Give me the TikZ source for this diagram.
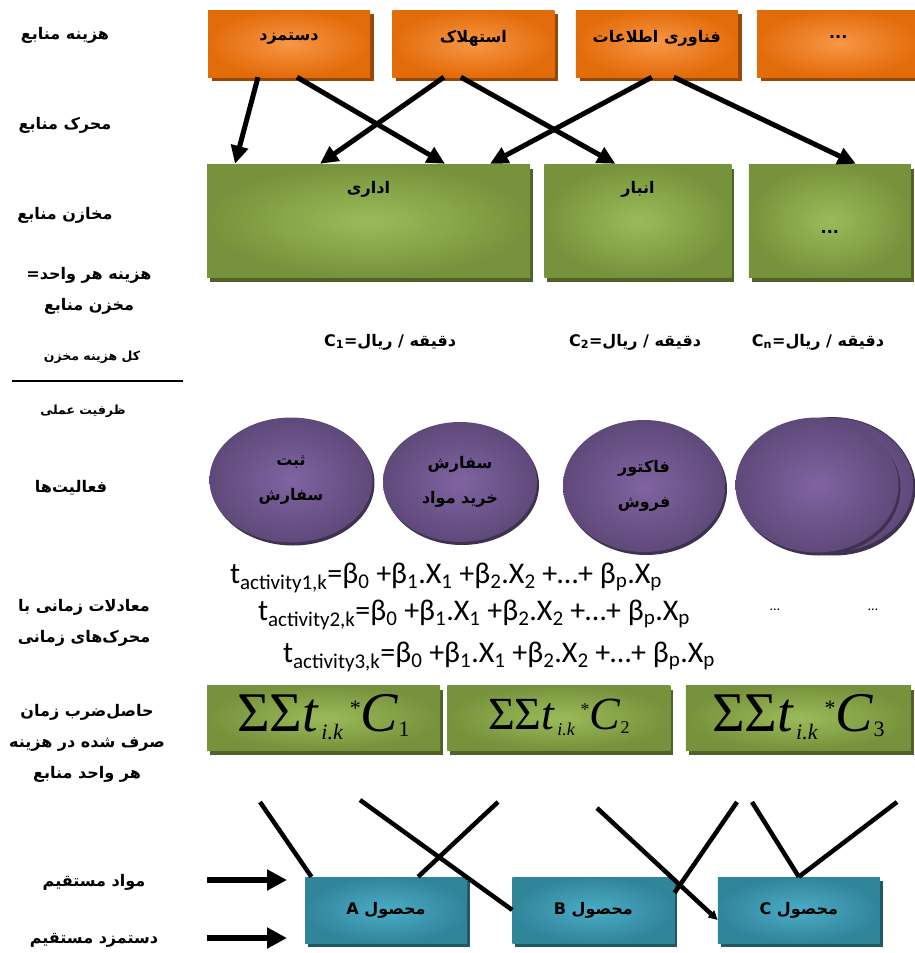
\documentclass[tikz,border=0pt]{standalone}
\usepackage{fontspec}
\usetikzlibrary{
  shapes.geometric,
  arrows.meta,
  positioning,
  shadows
}
\TeXXeTstate=1
\newfontfamily\fa[Script=Arabic]{DejaVu Sans}
\newfontfamily\eqfont{Carlito}
\newfontfamily\serifmath{Liberation Serif}
\definecolor{orangedark}{RGB}{227, 108, 10}
\definecolor{orangelight}{RGB}{247, 150, 70}
\definecolor{orangeshadow}{RGB}{152, 72, 6}
\definecolor{greendark}{RGB}{118, 146, 60}
\definecolor{greenlight}{RGB}{155, 187, 89}
\definecolor{greenshadow}{RGB}{79, 98, 40}
\definecolor{purpledark}{RGB}{95, 73, 122}
\definecolor{purplelight}{RGB}{128, 100, 162}
\definecolor{purpleshadow}{RGB}{63, 49, 81}
\definecolor{bluedark}{RGB}{49, 133, 155}
\definecolor{bluelight}{RGB}{75, 172, 198}
\definecolor{blueshadow}{RGB}{32, 88, 103}
\newcommand{\timeeq}[1]{t\textsubscript{activity#1,k}=β\textsubscript{0} +β\textsubscript{1}.X\textsubscript{1} +β\textsubscript{2}.X\textsubscript{2} +…+ β\textsubscript{p}.X\textsubscript{p}}
\newcommand{\sumexpr}[3]{{\serifmath\fontsize{#1}{#1}\selectfont ΣΣ\textit{t}\hspace{0.04em}\raisebox{-0.14em}{\fontsize{#2}{#2}\selectfont\textit{i.k}}\hspace{0.12em}\raisebox{0.3em}{\fontsize{#2}{#2}\selectfont *}\textit{C}\raisebox{-0.08em}{\fontsize{#2}{#2}\selectfont #3}}}
\tikzset{
blocktext/.style={
  align=center,
  font=\fa\bfseries\fontsize{16}{19}\selectfont,
  text=black
},
costblock/.style={
  rectangle,
  inner color=orangelight,
  outer color=orangedark,
  minimum width=162pt,
  minimum height=67pt,
  text depth=14pt,
  drop shadow={shadow xshift=4pt, shadow yshift=-4pt, fill=orangeshadow, opacity=1},
  blocktext
},
poolblock/.style={
  rectangle,
  inner color=greenlight,
  outer color=greendark,
  minimum height=113pt,
  drop shadow={shadow xshift=3pt, shadow yshift=-5pt, fill=greenshadow, opacity=1}
},
activityblock/.style={
  ellipse,
  inner sep=0pt,
  inner color=purplelight,
  outer color=purpledark,
  drop shadow={shadow xshift=2pt, shadow yshift=-3pt, fill=purpleshadow, opacity=1},
  blocktext,
  font=\fa\bfseries\fontsize{16}{35}\selectfont
},
sumblock/.style={
  rectangle,
  inner color=greenlight,
  outer color=greendark,
  minimum height=65pt,
  drop shadow={shadow xshift=3pt, shadow yshift=-5pt, fill=greenshadow, opacity=1}
},
productblock/.style={
  rectangle,
  inner color=bluelight,
  outer color=bluedark,
  minimum width=162pt,
  minimum height=66pt,
  drop shadow={shadow xshift=3pt, shadow yshift=-4pt, fill=blueshadow, opacity=1},
  blocktext
},
rowlabel/.style={
  align=center,
  font=\fa\bfseries\fontsize{16}{31}\selectfont
},
smalllabel/.style={
  font=\fa\bfseries\fontsize{12.5}{14}\selectfont
},
ratelabel/.style={
  font=\fa\bfseries\fontsize{16}{19}\selectfont
},
eqtext/.style={
  inner sep=0pt,
  font=\eqfont\fontsize{30}{34}\selectfont
},
arrow/.style={
  -{Triangle[length=18pt,width=17pt]},
  line width=5pt
},
inarrow/.style={
  -{Triangle[length=20pt,width=20pt]},
  line width=6pt
},
link/.style={
  line width=4.5pt
},
linkarrow/.style={
  link,
  -{Triangle[length=9pt,width=9pt]}
},
fracline/.style={
  line width=1.5pt
}
}
\begin{document}
\begin{tikzpicture}[x=1pt, y=-1pt, node distance=21pt]
\useasboundingbox (0,0) rectangle (914,953);

\node[costblock] (labor) at (289,43.5) {\beginR دستمزد\endR};
\node[costblock, right=22pt of labor] (depreciation) {\beginR استهلاک\endR};
\node[costblock, right=21pt of depreciation] (itcost) {\beginR فناوری اطلاعات\endR};
\node[costblock, right=19pt of itcost] (othercost) {...};

\node[poolblock, minimum width=323pt] (admin) at (368.5,220.5) {};
\node[poolblock, minimum width=187pt, right=14pt of admin] (store) {};
\node[poolblock, minimum width=162pt, right=17pt of store] (otherpool) {};
\node[blocktext, below=14pt of admin.north] (admintext) {\beginR اداری\endR};
\node[blocktext, below=14pt of store.north] (storetext) {\beginR انبار\endR};
\node[blocktext, below=6pt of otherpool.center] (otherpooltext) {...};

\draw[arrow] ([xshift=-31pt]labor.south) -- ([xshift=-133.5pt]admin.north);
\draw[arrow] ([xshift=8pt]labor.south) -- ([xshift=76.5pt]admin.north);
\draw[arrow] ([xshift=-29.5pt]depreciation.south) -- ([xshift=-48.5pt]admin.north);
\draw[arrow] ([xshift=-12.5pt]depreciation.south) -- ([xshift=-22.5pt]store.north);
\draw[arrow] ([xshift=-5pt]itcost.south) -- ([xshift=121.5pt]admin.north);
\draw[arrow] ([xshift=17pt]itcost.south) -- ([xshift=26pt]otherpool.north);

\node[ratelabel] (rateone) at (390,342) {\beginR دقیقه / ریال=\beginL C\textsubscript{1}\endL\endR};
\node[ratelabel] (ratetwo) at (635,342) {\beginR دقیقه / ریال=\beginL C\textsubscript{2}\endL\endR};
\node[ratelabel] (raten) at (818,342) {\beginR دقیقه / ریال=\beginL C\textsubscript{n}\endL\endR};

\node[activityblock, minimum width=163pt, minimum height=125pt] (register) at (291,480) {\beginR ثبت\endR\\\beginR سفارش\endR};
\node[activityblock, minimum width=154pt, minimum height=120pt] (purchase) at (460,482) {\beginR سفارش\endR\\\beginR خرید مواد\endR};
\node[activityblock, minimum width=162pt, minimum height=132pt] (invoice) at (644,486) {\beginR فاکتور\endR\\\beginR فروش\endR};
\node[activityblock, minimum width=163pt, minimum height=135pt, draw=purpleshadow, line width=0.8pt] (backact) at (832,485) {};
\node[activityblock, minimum width=163pt, minimum height=135pt] (otheract) at (817,485) {};

\node[eqtext] (eqone) at (446,578) {\timeeq{1}};
\node[eqtext] (eqtwo) at (474,615) {\timeeq{2}};
\node[eqtext] (eqthree) at (499,657) {\timeeq{3}};
\node[eqtext, font=\eqfont\fontsize{14}{16}\selectfont] (dotsone) at (775,610) {…};
\node[eqtext, font=\eqfont\fontsize{14}{16}\selectfont] (dotstwo) at (873,610) {…};

\node[sumblock, minimum width=233pt] (sumone) at (323.5,717.5) {\sumexpr{56}{22}{1}};
\node[sumblock, minimum width=223pt, right=7pt of sumone] (sumtwo) {\sumexpr{46}{18}{2}};
\node[sumblock, minimum width=225pt, right=15pt of sumtwo] (sumthree) {\sumexpr{56}{22}{3}};

\node[productblock] (prodA) at (386,910) {\beginR محصول \beginL A\endL\endR};
\node[productblock, right=45pt of prodA] (prodB) {\beginR محصول \beginL B\endL\endR};
\node[productblock, right=43pt of prodB] (prodC) {\beginR محصول \beginL C\endL\endR};

\coordinate (linkone) at (260,802);
\coordinate (linktwo) at (360,800);
\coordinate (linkthree) at (498,802);
\coordinate (linkfour) at (597,808);
\coordinate (linkfive) at (737,802);
\coordinate (linksix) at (752,802);
\coordinate (linkseven) at (897,802);
\draw[link] (linkone) -- (prodA.156);
\draw[link] (linktwo) -- (prodB.west);
\draw[link] (linkthree) -- (prodA.46);
\draw[linkarrow] (linkfour) -- (prodC.187);
\draw[link] (linkfive) -- (prodB.12);
\draw[link] (linksix) -- (prodC.north);
\draw[link] (linkseven) -- (prodC.north);

\coordinate (matstart) at (207,880);
\coordinate (matend) at (287,880);
\coordinate (dlstart) at (207,938);
\coordinate (dlend) at (287,938);
\draw[inarrow] (matstart) -- (matend);
\draw[inarrow] (dlstart) -- (dlend);

\node[rowlabel] (costlabel) at (65,35) {\beginR هزینه منابع\endR};
\node[rowlabel] (driverlabel) at (65,125) {\beginR محرک منابع\endR};
\node[rowlabel] (poollabel) at (65,215) {\beginR مخازن منابع\endR};
\node[rowlabel] (unitlabel) at (89,291) {\beginR هزینه هر واحد=\endR\\\beginR مخزن منابع\endR};
\node[smalllabel] (totallabel) at (92,357) {\beginR کل هزینه مخزن\endR};
\draw[fracline] (12,381) -- (183,381);
\node[smalllabel] (capacitylabel) at (83,411) {\beginR ظرفیت عملی\endR};
\node[rowlabel] (actlabel) at (71,488) {\beginR فعالیت‌ها\endR};
\node[rowlabel] (eqlabel) at (84,623) {\beginR معادلات زمانی با\endR\\\beginR محرک‌های زمانی\endR};
\node[rowlabel] (prodlabel) at (87,743) {\beginR حاصل‌ضرب زمان\endR\\\beginR صرف شده در هزینه\endR\\\beginR هر واحد منابع\endR};
\node[rowlabel] (matlabel) at (94,882) {\beginR مواد مستقیم\endR};
\node[rowlabel] (dllabel) at (94,940) {\beginR دستمزد مستقیم\endR};
\end{tikzpicture}
\end{document}
